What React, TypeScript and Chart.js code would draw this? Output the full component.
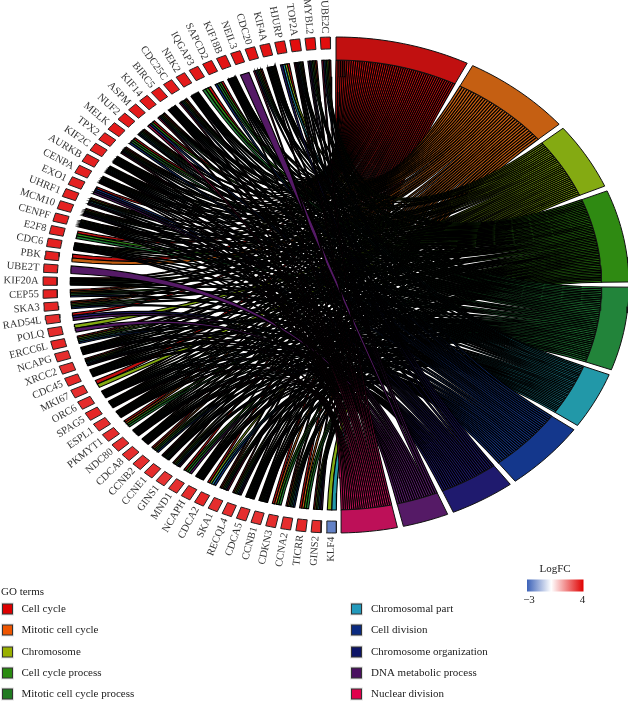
import React, { useEffect, useRef } from "react";
import { Chart, registerables } from "chart.js";

Chart.register(...registerables);

const termNames = ["Cell cycle", "Mitotic cell cycle", "Chromosome", "Cell cycle process", "Mitotic cell cycle process", "Chromosomal part", "Cell division", "Chromosome organization", "DNA metabolic process", "Nuclear division"];
const termKeys = ["A", "B", "C", "D", "E", "F", "G", "H", "I", "J"];
const termSpans = [26.6, 21.8, 15.7, 21.6, 19.5, 13.3, 16.6, 12.9, 9.1, 11.0];
const termRing = ["#c11010", "#c55f12", "#84aa12", "#2f8a12", "#22843a", "#2298a8", "#14378c", "#1f1a6e", "#551a66", "#bd1058"];
const termKeyColors = ["#dd0000", "#ee5500", "#99b000", "#2a8a10", "#207a20", "#2299bb", "#0a2a80", "#0c1466", "#4a1060", "#e0004c"];

const genes = ["KLF4", "GINS2", "TICRR", "CCNA2", "CDKN3", "CCNB1", "CDCA5", "RECQL4", "SKA1", "CDCA2", "NCAPH", "MND1", "GINS1", "CCNE1", "CCNB2", "CDCA8", "NDC80", "PKMYT1", "ESPL1", "SPAG5", "ORC6", "MKI67", "CDC45", "XRCC2", "NCAPG", "ERCC6L", "POLQ", "RAD54L", "SKA3", "CEP55", "KIF20A", "UBE2T", "PBK", "CDC6", "E2F8", "CENPF", "MCM10", "UHRF1", "EXO1", "CENPA", "AURKB", "KIF2C", "TPX2", "MELK", "NUF2", "ASPM", "KIF14", "BIRC5", "CDC25C", "NEK2", "IQGAP3", "SAPCD2", "KIF18B", "NEIL3", "CDC20", "KIF4A", "HJURP", "TOP2A", "MYBL2", "UBE2C"];
const memberships = ["CF", "ACDFHI", "ABDE", "ABDEFG", "ABDE", "ABCDEFGJ", "ABCDEFGHJ", "ACDFHI", "ABDEGJ", "ACFG", "ABCDEFGHJ", "ADEI", "ACDFHI", "ABCDEFI", "ABDEG", "ABCDEFGHJ", "ABCDEFGHJ", "ABDE", "ABCDEFHJ", "ABCDEFGJ", "ABCDEFGI", "AC", "ABCDEFHI", "ACDFHI", "ABCDEGHJ", "ACDFG", "CI", "AHI", "ABDEG", "ABDEG", "ABCDEF", "I", "AB", "ABCDEFGHI", "ADE", "ABCDEFGHJ", "ACDFHI", "ACDFHI", "AGHI", "ABCDEFGHJ", "ABCDEFGHJ", "ABCDEFGHJ", "ABDEGJ", "ADEG", "ABDEFG", "ADGJ", "ABDEGJ", "ABCDEFGHJ", "ABDEGJ", "ABCDEFGJ", "ADE", "ADEG", "ABCDEFGHJ", "I", "ABDEGJ", "ABCDEFHJ", "ACFH", "ACDFHIJ", "ABDEHI", "ABDEGJ"];
const logFC = [-2.4, 3.3, 3.4, 3.3, 3.3, 3.2, 3.3, 3.3, 3.3, 3.4, 3.3, 3.3, 3.2, 3.3, 3.3, 3.3, 3.3, 3.3, 3.3, 3.4, 3.3, 3.3, 3.4, 3.3, 3.3, 3.4, 3.3, 3.3, 3.4, 3.5, 3.5, 3.4, 3.5, 3.5, 3.5, 3.5, 3.5, 3.5, 3.5, 3.5, 3.5, 3.5, 3.5, 3.6, 3.6, 3.6, 3.6, 3.6, 3.6, 3.6, 3.6, 3.7, 3.7, 3.7, 3.7, 3.7, 3.7, 3.8, 3.8, 3.8];
const logFCRange = [-3, 4];

const W = 628, H = 702;
const CX = 336, CY = 285, RX = 293, RY = 248;
const R_IN = 0.907, R_BLOCK = 0.952, R_LABEL = 1.015;
const TERM_GAP = 1.2, GENE_START = 180.9, GENE_STEP = 3.0, GENE_WIDTH = 1.95;

const rad = (d: number) => (d * Math.PI) / 180;
const pol = (r: number, deg: number) => ({ x: r * Math.sin(rad(deg)), y: r * Math.cos(rad(deg)) });

function arc(r: number, a: number, b: number, n: number) {
  const out = [];
  for (let i = 0; i <= n; i++) out.push(pol(r, a + ((b - a) * i) / n));
  return out;
}
function curve(p0: any, p1: any, n: number) {
  const out = [];
  for (let i = 1; i < n; i++) {
    const t = i / n;
    out.push({ x: (1 - t) * (1 - t) * p0.x + t * t * p1.x, y: (1 - t) * (1 - t) * p0.y + t * t * p1.y });
  }
  return out;
}
function blockShape(r0: number, r1: number, a: number, b: number) {
  const n = Math.max(2, Math.ceil(Math.abs(b - a) / 1.5));
  const pts = [...arc(r1, a, b, n), ...arc(r0, b, a, n)];
  pts.push(pts[0]);
  return pts;
}
function lerpColor(v: number) {
  const lo = [60, 98, 184], hi = [224, 0, 0];
  const end = v < 0 ? lo : hi;
  const f = v < 0 ? Math.min(1, v / logFCRange[0]) : Math.min(1, v / logFCRange[1]);
  return `rgb(${end.map((c) => Math.round(255 + (c - 255) * f)).join(",")})`;
}

function buildDatasets() {
  const ribbons: any[][] = termKeys.map(() => []);
  const counts = termKeys.map((k) => memberships.filter((m) => m.includes(k)).length);
  const used = termKeys.map(() => 0);
  const terms: any[] = [];
  let start = 0;
  const termStarts = termSpans.map((s) => {
    const a = start;
    start += s + TERM_GAP;
    return a;
  });
  termSpans.forEach((s, k) => {
    terms.push({
      data: blockShape(R_IN, 1, termStarts[k], termStarts[k] + s),
      backgroundColor: termRing[k], borderColor: "#111", borderWidth: 1, fill: "shape", pointRadius: 0, showLine: true,
    });
  });
  const blocks: any[] = [];
  for (let g = genes.length - 1; g >= 0; g--) {
    const centre = GENE_START + GENE_STEP * g;
    const g0 = centre - GENE_WIDTH / 2;
    blocks.push({
      data: blockShape(R_BLOCK, 1, g0, g0 + GENE_WIDTH),
      backgroundColor: lerpColor(logFC[g]), borderColor: "#222", borderWidth: 1, fill: "shape", pointRadius: 0, showLine: true,
    });
    const list = termKeys.map((k, i) => (memberships[g].includes(k) ? i : -1)).filter((i) => i >= 0).reverse();
    const w = GENE_WIDTH / list.length;
    list.forEach((k, j) => {
      const tw = termSpans[k] / counts[k];
      const t0 = termStarts[k] + used[k] * tw;
      used[k]++;
      const t1 = t0 + tw;
      const a0 = g0 + j * w, a1 = a0 + w;
      const P = (d: number) => pol(R_IN, d);
      const pts = [P(t0), P(t1), ...curve(P(t1), P(a0), 26), ...arc(R_IN, a0, a1, 2), ...curve(P(a1), P(t0), 26), P(t0)];
      ribbons[k].push({
        data: pts, backgroundColor: termRing[k], borderColor: "#000", borderWidth: 1.1, fill: "shape", pointRadius: 0, showLine: true,
      });
    });
  }
  return [...blocks, ...terms, ...ribbons.slice().reverse().flatMap((r) => r.slice().reverse())];
}

const textPlugin = {
  id: "chordText",
  afterDraw(chart: any) {
    const { ctx, scales } = chart;
    const sx = scales.x, sy = scales.y;
    ctx.save();
    ctx.fillStyle = "#333";
    ctx.textBaseline = "middle";
    ctx.font = '10.5px "Liberation Serif"';
    genes.forEach((name, g) => {
      const deg = GENE_START + GENE_STEP * g;
      const p = pol(R_LABEL, deg);
      ctx.save();
      ctx.translate(sx.getPixelForValue(p.x), sy.getPixelForValue(p.y));
      ctx.rotate(rad(deg - 270));
      ctx.textAlign = "right";
      ctx.fillText(name, 0, 0);
      ctx.restore();
    });
    ctx.fillStyle = "#222";
    ctx.font = '11px "Liberation Serif"';
    ctx.textAlign = "left";
    ctx.fillText("GO terms", 1, 592);
    const rows = [609, 630, 652, 673, 694];
    termNames.forEach((name, i) => {
      const col = i < 5 ? 0 : 1;
      const y = rows[i % 5];
      const bx = col ? 351.5 : 2.5;
      const tx = col ? 371 : 21.5;
      ctx.fillStyle = "#e4e4e4";
      ctx.fillRect(bx - 1.5, y - 6.5, 13, 13);
      ctx.fillStyle = termKeyColors[i];
      ctx.strokeStyle = "#333";
      ctx.lineWidth = 1;
      ctx.fillRect(bx, y - 5, 10, 10);
      ctx.strokeRect(bx, y - 5, 10, 10);
      ctx.fillStyle = "#222";
      ctx.fillText(name, tx, y);
    });
    const x0 = 527, x1 = 583.5;
    const grad = ctx.createLinearGradient(x0, 0, x1, 0);
    grad.addColorStop(0, lerpColor(logFCRange[0]));
    grad.addColorStop(-logFCRange[0] / (logFCRange[1] - logFCRange[0]), "#ffffff");
    grad.addColorStop(1, lerpColor(logFCRange[1]));
    ctx.fillStyle = grad;
    ctx.fillRect(x0, 579.5, x1 - x0, 12);
    ctx.fillStyle = "#222";
    ctx.textAlign = "center";
    ctx.fillText("LogFC", 555, 569.5);
    ctx.fillText("\u2212" + Math.abs(logFCRange[0]), 529, 600);
    ctx.fillText(String(logFCRange[1]), 582.5, 600);
    ctx.restore();
  },
};

export default function App() {
  const ref = useRef<HTMLCanvasElement>(null);
  useEffect(() => {
    const chart = new Chart(ref.current as any, {
      type: "scatter",
      data: { datasets: buildDatasets() },
      plugins: [textPlugin],
      options: {
        animation: false,
        responsive: false,
        events: [],
        layout: { padding: 0 },
        elements: { line: { tension: 0 } },
        plugins: { legend: { display: false }, tooltip: { enabled: false } },
        scales: {
          x: { type: "linear", display: false, min: -CX / RX, max: (W - CX) / RX },
          y: { type: "linear", display: false, min: (CY - H) / RY, max: CY / RY },
        },
      },
    } as any);
    return () => chart.destroy();
  }, []);
  return (
    <div style={{ position: "absolute", left: 0, top: 0, width: W, height: H, background: "#fff" }}>
      <canvas ref={ref} width={W} height={H} style={{ display: "block" }} />
    </div>
  );
}
